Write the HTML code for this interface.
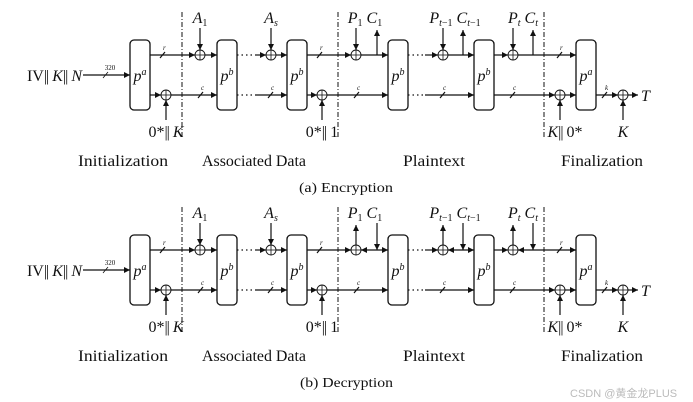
<!DOCTYPE html>
<html><head><meta charset="utf-8"><style>
html,body{margin:0;padding:0;background:#fff;width:693px;height:402px;overflow:hidden}
svg{display:block}
text{font-family:"Liberation Serif",serif;fill:#111}
.l{font-size:16px;font-style:italic}
.s{font-size:7px;font-style:italic}
.sec{font-size:16px}
.b{letter-spacing:-1px;font-style:normal}
line,path{stroke:#111;stroke-width:1.2;fill:none}
.dd{stroke-dasharray:5,2,1,2;stroke-width:1}
.dot{stroke-dasharray:1.5,3}
rect{fill:#fff;stroke:#111;stroke-width:1.3}
circle{fill:#fff;stroke:#111;stroke-width:0.9}
</style></head><body>
<svg width="693" height="402" viewBox="0 0 693 402" xmlns="http://www.w3.org/2000/svg">
<defs>
<marker id="a" viewBox="0 0 10 10" refX="10" refY="5" markerWidth="6" markerHeight="6" markerUnits="userSpaceOnUse" orient="auto-start-reverse"><path d="M0,0 L10,5 L0,10 z" style="fill:#111;stroke:none"/></marker>
<g id="x"><circle cx="0" cy="0" r="5"/><line x1="-5" y1="0" x2="5" y2="0" style="stroke-width:0.8"/><line x1="0" y1="-5" x2="0" y2="5" style="stroke-width:0.8"/></g>
</defs>

<!-- ============ ENCRYPTION ============ -->
<g>
<line class="dd" x1="182" y1="12" x2="182" y2="138"/>
<line class="dd" x1="338" y1="12" x2="338" y2="138"/>
<line class="dd" x1="544" y1="12" x2="544" y2="138"/>

<text x="82" y="81" text-anchor="end" style="font-size:16px">IV<tspan class="b">||</tspan> <tspan font-style="italic">K</tspan><tspan class="b">||</tspan> <tspan font-style="italic">N</tspan></text>
<line x1="83" y1="75" x2="130" y2="75" marker-end="url(#a)"/>
<text x="110" y="70" class="s" text-anchor="middle" style="font-style:normal">320</text>
<line x1="103" y1="78" x2="108" y2="72" style="stroke-width:0.8"/>

<rect x="130" y="40" width="20" height="70" rx="4"/>
<rect x="217" y="40" width="20" height="70" rx="4"/>
<rect x="287" y="40" width="20" height="70" rx="4"/>
<rect x="388" y="40" width="20" height="70" rx="4"/>
<rect x="474" y="40" width="20" height="70" rx="4"/>
<rect x="576" y="40" width="20" height="70" rx="4"/>
<text x="140" y="81" class="l" text-anchor="middle">p<tspan dy="-6" style="font-size:10px">a</tspan></text>
<text x="227" y="81" class="l" text-anchor="middle">p<tspan dy="-6" style="font-size:10px">b</tspan></text>
<text x="297" y="81" class="l" text-anchor="middle">p<tspan dy="-6" style="font-size:10px">b</tspan></text>
<text x="398" y="81" class="l" text-anchor="middle">p<tspan dy="-6" style="font-size:10px">b</tspan></text>
<text x="484" y="81" class="l" text-anchor="middle">p<tspan dy="-6" style="font-size:10px">b</tspan></text>
<text x="586" y="81" class="l" text-anchor="middle">p<tspan dy="-6" style="font-size:10px">a</tspan></text>

<line x1="150" y1="55" x2="195" y2="55" marker-end="url(#a)"/>
<use href="#x" x="200" y="55"/>
<line x1="205" y1="55" x2="217" y2="55" marker-end="url(#a)"/>
<line class="dot" x1="237" y1="55" x2="255" y2="55"/>
<line x1="255" y1="55" x2="266" y2="55" marker-end="url(#a)"/>
<use href="#x" x="271" y="55"/>
<line x1="276" y1="55" x2="287" y2="55" marker-end="url(#a)"/>
<line x1="307" y1="55" x2="351" y2="55" marker-end="url(#a)"/>
<use href="#x" x="356" y="55"/>
<line x1="361" y1="55" x2="388" y2="55" marker-end="url(#a)"/>
<line x1="377" y1="55" x2="377" y2="30" marker-end="url(#a)"/>
<line class="dot" x1="408" y1="55" x2="425" y2="55"/>
<line x1="425" y1="55" x2="438" y2="55" marker-end="url(#a)"/>
<use href="#x" x="443" y="55"/>
<line x1="448" y1="55" x2="474" y2="55" marker-end="url(#a)"/>
<line x1="463" y1="55" x2="463" y2="30" marker-end="url(#a)"/>
<line x1="494" y1="55" x2="508" y2="55" marker-end="url(#a)"/>
<use href="#x" x="513" y="55"/>
<line x1="518" y1="55" x2="576" y2="55" marker-end="url(#a)"/>
<line x1="533" y1="55" x2="533" y2="30" marker-end="url(#a)"/>

<line x1="150" y1="95" x2="161" y2="95" marker-end="url(#a)"/>
<use href="#x" x="166" y="95"/>
<line x1="171" y1="95" x2="217" y2="95" marker-end="url(#a)"/>
<line class="dot" x1="237" y1="95" x2="255" y2="95"/>
<line x1="255" y1="95" x2="287" y2="95" marker-end="url(#a)"/>
<line x1="307" y1="95" x2="317" y2="95" marker-end="url(#a)"/>
<use href="#x" x="322" y="95"/>
<line x1="327" y1="95" x2="388" y2="95" marker-end="url(#a)"/>
<line class="dot" x1="408" y1="95" x2="425" y2="95"/>
<line x1="425" y1="95" x2="474" y2="95" marker-end="url(#a)"/>
<line x1="494" y1="95" x2="555" y2="95" marker-end="url(#a)"/>
<use href="#x" x="560" y="95"/>
<line x1="565" y1="95" x2="576" y2="95" marker-end="url(#a)"/>
<line x1="596" y1="95" x2="618" y2="95" marker-end="url(#a)"/>
<use href="#x" x="623" y="95"/>
<line x1="628" y1="95" x2="638" y2="95" marker-end="url(#a)"/>
<text x="641" y="101" class="l">T</text>

<g style="stroke-width:0.8">
<line x1="160" y1="58" x2="165" y2="52"/><line x1="198" y1="98" x2="203" y2="92"/><line x1="268" y1="98" x2="273" y2="92"/>
<line x1="317" y1="58" x2="322" y2="52"/><line x1="354" y1="98" x2="359" y2="92"/><line x1="440" y1="98" x2="445" y2="92"/>
<line x1="510" y1="98" x2="515" y2="92"/><line x1="557" y1="58" x2="562" y2="52"/><line x1="602" y1="98" x2="607" y2="92"/>
</g>
<text x="163" y="50" class="s">r</text><text x="201" y="90" class="s">c</text><text x="271" y="90" class="s">c</text>
<text x="320" y="50" class="s">r</text><text x="357" y="90" class="s">c</text><text x="443" y="90" class="s">c</text>
<text x="513" y="90" class="s">c</text><text x="560" y="50" class="s">r</text><text x="605" y="90" class="s">k</text>

<line x1="166" y1="120" x2="166" y2="100" marker-end="url(#a)"/>
<line x1="322" y1="120" x2="322" y2="100" marker-end="url(#a)"/>
<line x1="560" y1="120" x2="560" y2="100" marker-end="url(#a)"/>
<line x1="623" y1="120" x2="623" y2="100" marker-end="url(#a)"/>
<line x1="200" y1="28" x2="200" y2="50" marker-end="url(#a)"/>
<line x1="271" y1="28" x2="271" y2="50" marker-end="url(#a)"/>
<line x1="356" y1="28" x2="356" y2="50" marker-end="url(#a)"/>
<line x1="443" y1="28" x2="443" y2="50" marker-end="url(#a)"/>
<line x1="513" y1="28" x2="513" y2="50" marker-end="url(#a)"/>

<text x="200" y="23" class="l" text-anchor="middle">A<tspan dy="3" style="font-size:10px;font-style:normal">1</tspan></text>
<text x="271" y="23" class="l" text-anchor="middle">A<tspan dy="3" style="font-size:10px">s</tspan></text>
<text x="365" y="23" class="l" text-anchor="middle">P<tspan dy="3" style="font-size:10px;font-style:normal">1</tspan><tspan dy="-3"> C</tspan><tspan dy="3" style="font-size:10px;font-style:normal">1</tspan></text>
<text x="455" y="23" class="l" text-anchor="middle">P<tspan dy="3" style="font-size:10px">t</tspan><tspan style="font-size:10px;font-style:normal">−1</tspan><tspan dy="-3"> C</tspan><tspan dy="3" style="font-size:10px">t</tspan><tspan style="font-size:10px;font-style:normal">−1</tspan></text>
<text x="523" y="23" class="l" text-anchor="middle">P<tspan dy="3" style="font-size:10px">t</tspan><tspan dy="-3"> C</tspan><tspan dy="3" style="font-size:10px">t</tspan></text>

<text x="166" y="137" text-anchor="middle" style="font-size:16px">0*<tspan class="b">||</tspan> <tspan font-style="italic">K</tspan></text>
<text x="322" y="137" text-anchor="middle" style="font-size:16px">0*<tspan class="b">||</tspan> 1</text>
<text x="565" y="137" text-anchor="middle" style="font-size:16px"><tspan font-style="italic">K</tspan><tspan class="b">||</tspan> 0*</text>
<text x="623" y="137" class="l" text-anchor="middle">K</text>

<text x="78" y="166" class="sec" textLength="90" lengthAdjust="spacingAndGlyphs">Initialization</text>
<text x="202" y="166" class="sec" textLength="104" lengthAdjust="spacingAndGlyphs">Associated Data</text>
<text x="403" y="166" class="sec" textLength="62" lengthAdjust="spacingAndGlyphs">Plaintext</text>
<text x="561" y="166" class="sec" textLength="82" lengthAdjust="spacingAndGlyphs">Finalization</text>
<text x="299" y="192" style="font-size:14px" textLength="94" lengthAdjust="spacingAndGlyphs">(a) Encryption</text>
</g>

<!-- ============ DECRYPTION ============ -->
<g transform="translate(0,195)">
<line class="dd" x1="182" y1="12" x2="182" y2="138"/>
<line class="dd" x1="338" y1="12" x2="338" y2="138"/>
<line class="dd" x1="544" y1="12" x2="544" y2="138"/>

<text x="82" y="81" text-anchor="end" style="font-size:16px">IV<tspan class="b">||</tspan> <tspan font-style="italic">K</tspan><tspan class="b">||</tspan> <tspan font-style="italic">N</tspan></text>
<line x1="83" y1="75" x2="130" y2="75" marker-end="url(#a)"/>
<text x="110" y="70" class="s" text-anchor="middle" style="font-style:normal">320</text>
<line x1="103" y1="78" x2="108" y2="72" style="stroke-width:0.8"/>

<rect x="130" y="40" width="20" height="70" rx="4"/>
<rect x="217" y="40" width="20" height="70" rx="4"/>
<rect x="287" y="40" width="20" height="70" rx="4"/>
<rect x="388" y="40" width="20" height="70" rx="4"/>
<rect x="474" y="40" width="20" height="70" rx="4"/>
<rect x="576" y="40" width="20" height="70" rx="4"/>
<text x="140" y="81" class="l" text-anchor="middle">p<tspan dy="-6" style="font-size:10px">a</tspan></text>
<text x="227" y="81" class="l" text-anchor="middle">p<tspan dy="-6" style="font-size:10px">b</tspan></text>
<text x="297" y="81" class="l" text-anchor="middle">p<tspan dy="-6" style="font-size:10px">b</tspan></text>
<text x="398" y="81" class="l" text-anchor="middle">p<tspan dy="-6" style="font-size:10px">b</tspan></text>
<text x="484" y="81" class="l" text-anchor="middle">p<tspan dy="-6" style="font-size:10px">b</tspan></text>
<text x="586" y="81" class="l" text-anchor="middle">p<tspan dy="-6" style="font-size:10px">a</tspan></text>

<line x1="150" y1="55" x2="195" y2="55" marker-end="url(#a)"/>
<use href="#x" x="200" y="55"/>
<line x1="205" y1="55" x2="217" y2="55" marker-end="url(#a)"/>
<line class="dot" x1="237" y1="55" x2="255" y2="55"/>
<line x1="255" y1="55" x2="266" y2="55" marker-end="url(#a)"/>
<use href="#x" x="271" y="55"/>
<line x1="276" y1="55" x2="287" y2="55" marker-end="url(#a)"/>
<line x1="307" y1="55" x2="351" y2="55" marker-end="url(#a)"/>
<use href="#x" x="356" y="55"/>
<line x1="361" y1="55" x2="388" y2="55" marker-start="url(#a)" marker-end="url(#a)"/>
<line x1="356" y1="50" x2="356" y2="30" marker-end="url(#a)"/>
<line x1="377" y1="28" x2="377" y2="55" marker-end="url(#a)"/>
<line class="dot" x1="408" y1="55" x2="425" y2="55"/>
<line x1="425" y1="55" x2="438" y2="55" marker-end="url(#a)"/>
<use href="#x" x="443" y="55"/>
<line x1="448" y1="55" x2="474" y2="55" marker-start="url(#a)" marker-end="url(#a)"/>
<line x1="443" y1="50" x2="443" y2="30" marker-end="url(#a)"/>
<line x1="463" y1="28" x2="463" y2="55" marker-end="url(#a)"/>
<line x1="494" y1="55" x2="508" y2="55" marker-end="url(#a)"/>
<use href="#x" x="513" y="55"/>
<line x1="518" y1="55" x2="576" y2="55" marker-start="url(#a)" marker-end="url(#a)"/>
<line x1="513" y1="50" x2="513" y2="30" marker-end="url(#a)"/>
<line x1="533" y1="28" x2="533" y2="55" marker-end="url(#a)"/>

<line x1="150" y1="95" x2="161" y2="95" marker-end="url(#a)"/>
<use href="#x" x="166" y="95"/>
<line x1="171" y1="95" x2="217" y2="95" marker-end="url(#a)"/>
<line class="dot" x1="237" y1="95" x2="255" y2="95"/>
<line x1="255" y1="95" x2="287" y2="95" marker-end="url(#a)"/>
<line x1="307" y1="95" x2="317" y2="95" marker-end="url(#a)"/>
<use href="#x" x="322" y="95"/>
<line x1="327" y1="95" x2="388" y2="95" marker-end="url(#a)"/>
<line class="dot" x1="408" y1="95" x2="425" y2="95"/>
<line x1="425" y1="95" x2="474" y2="95" marker-end="url(#a)"/>
<line x1="494" y1="95" x2="555" y2="95" marker-end="url(#a)"/>
<use href="#x" x="560" y="95"/>
<line x1="565" y1="95" x2="576" y2="95" marker-end="url(#a)"/>
<line x1="596" y1="95" x2="618" y2="95" marker-end="url(#a)"/>
<use href="#x" x="623" y="95"/>
<line x1="628" y1="95" x2="638" y2="95" marker-end="url(#a)"/>
<text x="641" y="101" class="l">T</text>

<g style="stroke-width:0.8">
<line x1="160" y1="58" x2="165" y2="52"/><line x1="198" y1="98" x2="203" y2="92"/><line x1="268" y1="98" x2="273" y2="92"/>
<line x1="317" y1="58" x2="322" y2="52"/><line x1="354" y1="98" x2="359" y2="92"/><line x1="440" y1="98" x2="445" y2="92"/>
<line x1="510" y1="98" x2="515" y2="92"/><line x1="557" y1="58" x2="562" y2="52"/><line x1="602" y1="98" x2="607" y2="92"/>
</g>
<text x="163" y="50" class="s">r</text><text x="201" y="90" class="s">c</text><text x="271" y="90" class="s">c</text>
<text x="320" y="50" class="s">r</text><text x="357" y="90" class="s">c</text><text x="443" y="90" class="s">c</text>
<text x="513" y="90" class="s">c</text><text x="560" y="50" class="s">r</text><text x="605" y="90" class="s">k</text>

<line x1="166" y1="120" x2="166" y2="100" marker-end="url(#a)"/>
<line x1="322" y1="120" x2="322" y2="100" marker-end="url(#a)"/>
<line x1="560" y1="120" x2="560" y2="100" marker-end="url(#a)"/>
<line x1="623" y1="120" x2="623" y2="100" marker-end="url(#a)"/>
<line x1="200" y1="28" x2="200" y2="50" marker-end="url(#a)"/>
<line x1="271" y1="28" x2="271" y2="50" marker-end="url(#a)"/>

<text x="200" y="23" class="l" text-anchor="middle">A<tspan dy="3" style="font-size:10px;font-style:normal">1</tspan></text>
<text x="271" y="23" class="l" text-anchor="middle">A<tspan dy="3" style="font-size:10px">s</tspan></text>
<text x="365" y="23" class="l" text-anchor="middle">P<tspan dy="3" style="font-size:10px;font-style:normal">1</tspan><tspan dy="-3"> C</tspan><tspan dy="3" style="font-size:10px;font-style:normal">1</tspan></text>
<text x="455" y="23" class="l" text-anchor="middle">P<tspan dy="3" style="font-size:10px">t</tspan><tspan style="font-size:10px;font-style:normal">−1</tspan><tspan dy="-3"> C</tspan><tspan dy="3" style="font-size:10px">t</tspan><tspan style="font-size:10px;font-style:normal">−1</tspan></text>
<text x="523" y="23" class="l" text-anchor="middle">P<tspan dy="3" style="font-size:10px">t</tspan><tspan dy="-3"> C</tspan><tspan dy="3" style="font-size:10px">t</tspan></text>

<text x="166" y="137" text-anchor="middle" style="font-size:16px">0*<tspan class="b">||</tspan> <tspan font-style="italic">K</tspan></text>
<text x="322" y="137" text-anchor="middle" style="font-size:16px">0*<tspan class="b">||</tspan> 1</text>
<text x="565" y="137" text-anchor="middle" style="font-size:16px"><tspan font-style="italic">K</tspan><tspan class="b">||</tspan> 0*</text>
<text x="623" y="137" class="l" text-anchor="middle">K</text>

<text x="78" y="166" class="sec" textLength="90" lengthAdjust="spacingAndGlyphs">Initialization</text>
<text x="202" y="166" class="sec" textLength="104" lengthAdjust="spacingAndGlyphs">Associated Data</text>
<text x="403" y="166" class="sec" textLength="62" lengthAdjust="spacingAndGlyphs">Plaintext</text>
<text x="561" y="166" class="sec" textLength="82" lengthAdjust="spacingAndGlyphs">Finalization</text>
<text x="300" y="192" style="font-size:14px" textLength="93" lengthAdjust="spacingAndGlyphs">(b) Decryption</text>
</g>

<text x="570" y="397" style="font-family:'Liberation Sans','Noto Sans CJK SC',sans-serif;font-size:11px;fill:#bbb">CSDN @黄金龙PLUS</text>
</svg>
</body></html>
